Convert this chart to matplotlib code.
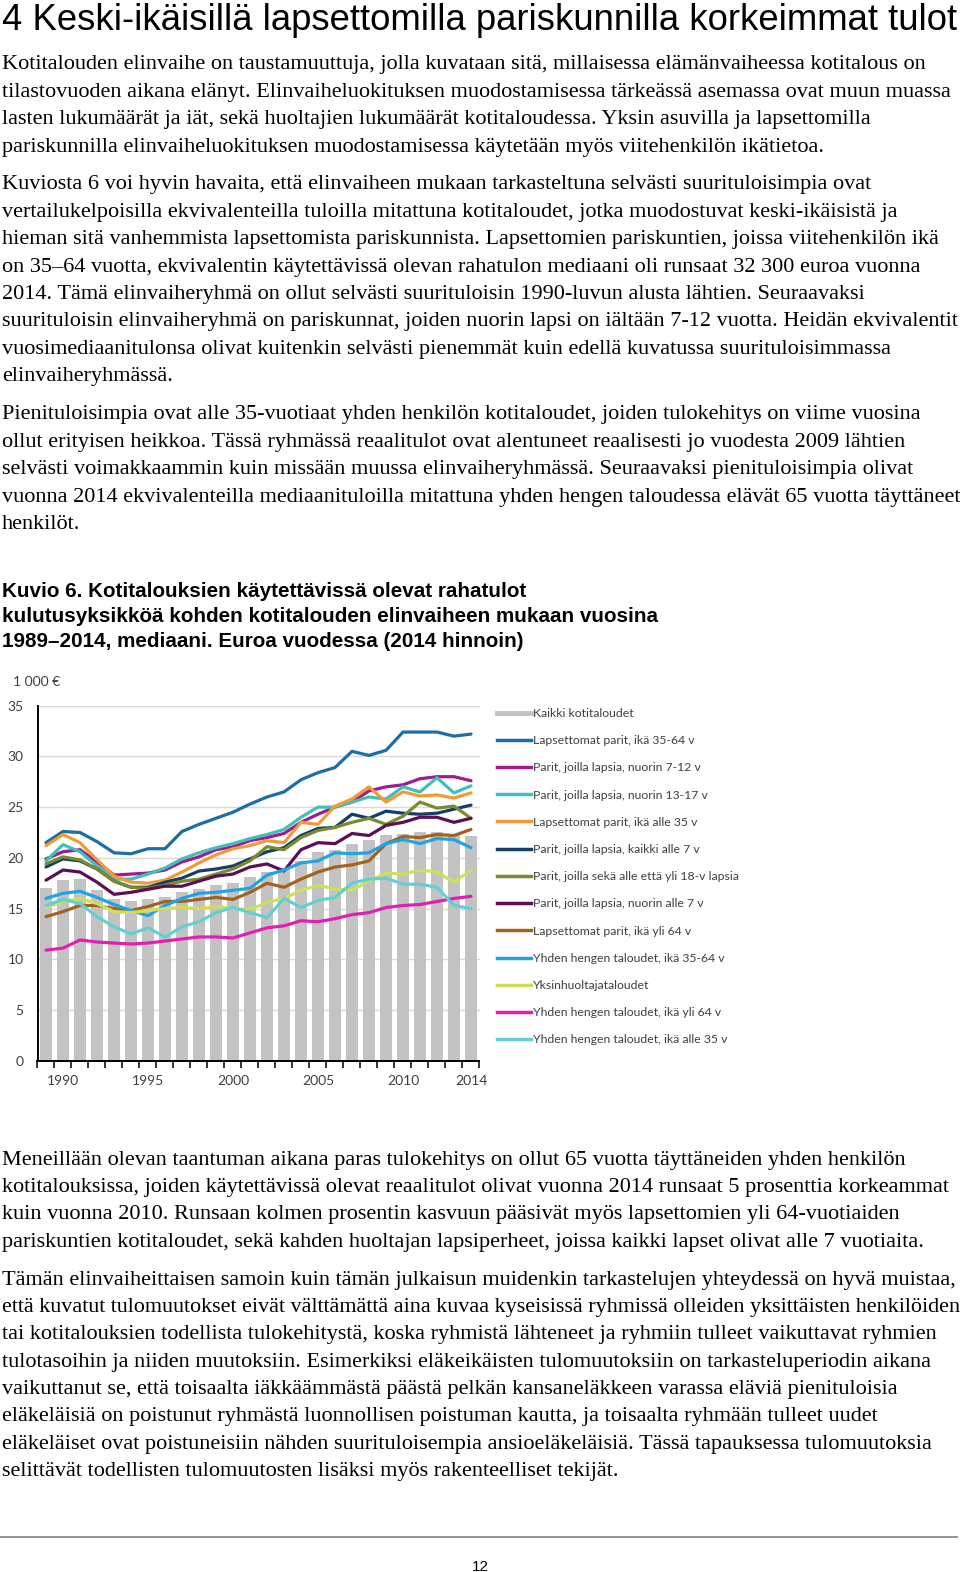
import numpy as np
import matplotlib
matplotlib.use('Agg')
import matplotlib.pyplot as plt
from matplotlib.lines import Line2D

W, H = 960, 1572

# ---------------- data ----------------
years = list(range(1989, 2015))
kaikki_kotitaloudet = [17.0, 17.8, 17.9, 16.8, 15.9, 15.7, 15.9, 16.1, 16.6, 16.9, 17.3, 17.5, 18.1,
                       18.6, 19.0, 19.7, 20.6, 20.8, 21.4, 21.8, 22.3, 22.4, 22.5, 22.5, 22.3, 22.2]
lapsettomat_35_64 = [21.5, 22.6, 22.5, 21.6, 20.5, 20.4, 20.9, 20.9, 22.6, 23.3, 23.9, 24.5, 25.3,
                     26.0, 26.5, 27.7, 28.4, 28.9, 30.5, 30.1, 30.6, 32.4, 32.4, 32.4, 32.0, 32.2]
parit_nuorin_7_12 = [19.9, 20.6, 20.8, 19.6, 18.3, 18.4, 18.5, 18.8, 19.6, 20.1, 20.8, 21.1, 21.7,
                     22.0, 22.4, 23.5, 24.3, 25.0, 25.5, 26.6, 27.0, 27.2, 27.8, 28.0, 28.0, 27.6]
parit_nuorin_13_17 = [19.7, 21.3, 20.6, 19.2, 17.9, 17.9, 18.4, 19.0, 19.9, 20.5, 21.0, 21.4, 21.9,
                      22.3, 22.8, 24.0, 25.0, 25.0, 25.5, 26.0, 25.8, 27.0, 26.5, 27.9, 26.4, 27.1]
lapsettomat_alle_35 = [21.2, 22.3, 21.5, 19.8, 18.2, 17.6, 17.5, 17.8, 18.6, 19.5, 20.3, 20.9, 21.2,
                       21.7, 21.5, 23.5, 23.3, 25.1, 25.8, 27.0, 25.5, 26.5, 26.1, 26.2, 25.9, 26.4]
parit_kaikki_alle_7 = [19.1, 19.9, 19.7, 18.9, 17.7, 17.1, 17.1, 17.6, 18.0, 18.7, 18.9, 19.2, 19.9,
                       20.6, 21.0, 22.2, 22.9, 23.0, 24.3, 23.9, 24.6, 24.4, 24.3, 24.4, 24.8, 25.2]
parit_alle_ja_yli_18 = [19.4, 20.1, 19.8, 18.9, 17.7, 17.1, 17.0, 17.3, 17.7, 17.9, 18.4, 18.9, 19.7,
                        21.1, 20.8, 22.0, 22.7, 23.0, 23.5, 23.9, 23.3, 24.1, 25.5, 24.9, 25.1, 23.9]
parit_nuorin_alle_7 = [17.8, 18.8, 18.6, 17.6, 16.4, 16.6, 16.9, 17.2, 17.2, 17.7, 18.2, 18.4, 19.1,
                       19.4, 18.7, 20.8, 21.5, 21.4, 22.4, 22.2, 23.2, 23.5, 24.0, 24.0, 23.5, 23.9]
lapsettomat_yli_64 = [14.2, 14.7, 15.3, 15.3, 15.0, 14.8, 15.2, 15.7, 15.7, 15.9, 16.1, 15.9, 16.6,
                      17.5, 17.1, 17.9, 18.6, 19.1, 19.3, 19.7, 21.4, 22.1, 22.0, 22.3, 22.2, 22.8]
yhden_hengen_35_64 = [16.0, 16.5, 16.7, 16.1, 15.4, 14.8, 14.3, 15.3, 16.0, 16.5, 16.6, 16.8, 17.0,
                      18.3, 18.8, 19.5, 19.7, 20.5, 20.4, 20.5, 21.4, 21.8, 21.4, 21.9, 21.8, 21.0]
yksinhuoltajat = [15.1, 15.7, 16.0, 15.5, 14.7, 14.6, 14.8, 15.0, 15.1, 15.0, 15.2, 15.0, 14.9,
                  15.6, 16.0, 16.8, 17.3, 16.9, 16.8, 17.7, 18.5, 18.4, 18.8, 18.6, 17.6, 18.8]
yhden_hengen_yli_64 = [10.9, 11.1, 11.9, 11.7, 11.6, 11.5, 11.6, 11.8, 12.0, 12.2, 12.2, 12.1, 12.6,
                       13.1, 13.3, 13.8, 13.7, 14.0, 14.4, 14.6, 15.1, 15.3, 15.4, 15.7, 16.0, 16.2]
yhden_hengen_alle_35 = [15.3, 15.9, 15.5, 14.2, 13.2, 12.5, 13.1, 12.2, 13.2, 13.7, 14.6, 15.1, 14.6,
                        14.1, 16.0, 15.1, 15.8, 16.1, 17.5, 17.9, 18.0, 17.4, 17.4, 17.1, 15.3, 15.0]

bar_label = "Kaikki kotitaloudet"
line_labels = ["Lapsettomat parit, ikä 35-64 v", "Parit, joilla lapsia, nuorin 7-12 v",
               "Parit, joilla lapsia, nuorin 13-17 v", "Lapsettomat parit, ikä alle 35 v",
               "Parit, joilla lapsia, kaikki alle 7 v", "Parit, joilla sekä alle että yli 18-v lapsia",
               "Parit, joilla lapsia, nuorin alle 7 v", "Lapsettomat parit, ikä yli 64 v",
               "Yhden hengen taloudet, ikä 35-64 v", "Yksinhuoltajataloudet",
               "Yhden hengen taloudet, ikä yli 64 v", "Yhden hengen taloudet, ikä alle 35 v"]
line_values = [lapsettomat_35_64, parit_nuorin_7_12, parit_nuorin_13_17, lapsettomat_alle_35,
               parit_kaikki_alle_7, parit_alle_ja_yli_18, parit_nuorin_alle_7, lapsettomat_yli_64,
               yhden_hengen_35_64, yksinhuoltajat, yhden_hengen_yli_64, yhden_hengen_alle_35]
line_colors = ["#1c6ea6", "#9e1c8f", "#3fc0bb", "#f29b35", "#163f68", "#7a8a2c",
               "#5b0f54", "#a5621c", "#22a3e2", "#d0de5c", "#e21fb2", "#62d0d2"]
ytick_values = [0, 5, 10, 15, 20, 25, 30, 35]
xtick_label_years = [1990, 1995, 2000, 2005, 2010, 2014]

title = "4 Keski-ikäisillä lapsettomilla pariskunnilla korkeimmat tulot"
paragraphs_top = [
    ["Kotitalouden elinvaihe on taustamuuttuja, jolla kuvataan sitä, millaisessa elämänvaiheessa kotitalous on",
     "tilastovuoden aikana elänyt. Elinvaiheluokituksen muodostamisessa tärkeässä asemassa ovat muun muassa",
     "lasten lukumäärät ja iät, sekä huoltajien lukumäärät kotitaloudessa. Yksin asuvilla ja lapsettomilla",
     "pariskunnilla elinvaiheluokituksen muodostamisessa käytetään myös viitehenkilön ikätietoa."],
    ["Kuviosta 6 voi hyvin havaita, että elinvaiheen mukaan tarkasteltuna selvästi suurituloisimpia ovat",
     "vertailukelpoisilla ekvivalenteilla tuloilla mitattuna kotitaloudet, jotka muodostuvat keski-ikäisistä ja",
     "hieman sitä vanhemmista lapsettomista pariskunnista. Lapsettomien pariskuntien, joissa viitehenkilön ikä",
     "on 35–64 vuotta, ekvivalentin käytettävissä olevan rahatulon mediaani oli runsaat 32 300 euroa vuonna",
     "2014. Tämä elinvaiheryhmä on ollut selvästi suurituloisin 1990-luvun alusta lähtien. Seuraavaksi",
     "suurituloisin elinvaiheryhmä on pariskunnat, joiden nuorin lapsi on iältään 7-12 vuotta. Heidän ekvivalentit",
     "vuosimediaanitulonsa olivat kuitenkin selvästi pienemmät kuin edellä kuvatussa suurituloisimmassa",
     "elinvaiheryhmässä."],
    ["Pienituloisimpia ovat alle 35-vuotiaat yhden henkilön kotitaloudet, joiden tulokehitys on viime vuosina",
     "ollut erityisen heikkoa. Tässä ryhmässä reaalitulot ovat alentuneet reaalisesti jo vuodesta 2009 lähtien",
     "selvästi voimakkaammin kuin missään muussa elinvaiheryhmässä. Seuraavaksi pienituloisimpia olivat",
     "vuonna 2014 ekvivalenteilla mediaanituloilla mitattuna yhden hengen taloudessa elävät 65 vuotta täyttäneet",
     "henkilöt."],
]
paragraphs_bottom = [
    ["Meneillään olevan taantuman aikana paras tulokehitys on ollut 65 vuotta täyttäneiden yhden henkilön",
     "kotitalouksissa, joiden käytettävissä olevat reaalitulot olivat vuonna 2014 runsaat 5 prosenttia korkeammat",
     "kuin vuonna 2010. Runsaan kolmen prosentin kasvuun pääsivät myös lapsettomien yli 64-vuotiaiden",
     "pariskuntien kotitaloudet, sekä kahden huoltajan lapsiperheet, joissa kaikki lapset olivat alle 7 vuotiaita."],
    ["Tämän elinvaiheittaisen samoin kuin tämän julkaisun muidenkin tarkastelujen yhteydessä on hyvä muistaa,",
     "että kuvatut tulomuutokset eivät välttämättä aina kuvaa kyseisissä ryhmissä olleiden yksittäisten henkilöiden",
     "tai kotitalouksien todellista tulokehitystä, koska ryhmistä lähteneet ja ryhmiin tulleet vaikuttavat ryhmien",
     "tulotasoihin ja niiden muutoksiin. Esimerkiksi eläkeikäisten tulomuutoksiin on tarkasteluperiodin aikana",
     "vaikuttanut se, että toisaalta iäkkäämmästä päästä pelkän kansaneläkkeen varassa eläviä pienituloisia",
     "eläkeläisiä on poistunut ryhmästä luonnollisen poistuman kautta, ja toisaalta ryhmään tulleet uudet",
     "eläkeläiset ovat poistuneisiin nähden suurituloisempia ansioeläkeläisiä. Tässä tapauksessa tulomuutoksia",
     "selittävät todellisten tulomuutosten lisäksi myös rakenteelliset tekijät."],
]
caption_lines = ["Kuvio 6. Kotitalouksien käytettävissä olevat rahatulot",
                 "kulutusyksikköä kohden kotitalouden elinvaiheen mukaan vuosina",
                 "1989–2014, mediaani. Euroa vuodessa (2014 hinnoin)"]
unit_label = "1 000 €"
page_number = "12"

# ---------------- figure ----------------
fig = plt.figure(figsize=(W / 100, H / 100), dpi=100)
fig.patch.set_facecolor('white')
renderer = fig.canvas.get_renderer()


def fx(x):
    return x / W


def fy(y):
    return 1 - y / H


def width_px(s, family, weight, size):
    t = fig.text(0, 0, s, fontsize=size, family=family, weight=weight)
    w = t.get_window_extent(renderer).width
    t.remove()
    return w


SERIF = 'Liberation Serif'
SANS = 'Liberation Sans'
CHART = 'Lato'

# Title
ts = 20 * 955 / width_px(title, SANS, 'normal', 20)
fig.text(fx(2), fy(30), title, fontsize=ts, family=SANS, va='baseline', ha='left')

# body font size fitted to reference line widths
refs = [(paragraphs_top[0][0], 950), (paragraphs_top[0][1], 955), (paragraphs_top[1][2], 956),
        (paragraphs_top[1][5], 956), (paragraphs_bottom[0][1], 956), (paragraphs_bottom[1][1], 956),
        (paragraphs_top[1][1], 922)]
sizes = [14 * tw / width_px(s, SERIF, 'normal', 14) for s, tw in refs]
body_size = float(np.median(sizes))


def draw_par(lines, base_y):
    for i, line in enumerate(lines):
        size = body_size
        w = width_px(line, SERIF, 'normal', size)
        if w > 956:
            size = size * 956 / w
        fig.text(fx(2), fy(base_y + i * 27.35), line, fontsize=size, family=SERIF,
                 va='baseline', ha='left')


draw_par(paragraphs_top[0], 69.5)
draw_par(paragraphs_top[1], 189.5)
draw_par(paragraphs_top[2], 419.5)
draw_par(paragraphs_bottom[0], 1164.5)
draw_par(paragraphs_bottom[1], 1284.5)

# caption
cs = 14 * 657 / width_px(caption_lines[1], SANS, 'bold', 14)
for i, line in enumerate(caption_lines):
    fig.text(fx(2), fy(597 + i * 25), line, fontsize=cs, family=SANS, weight='bold',
             va='baseline', ha='left')

# footer
fig.add_artist(Line2D([0, 957 / W], [fy(1537), fy(1537)], color='#8a8a8a', lw=1.3,
                      transform=fig.transFigure))
fig.text(fx(480), fy(1571), page_number, fontsize=11, family=SANS, ha='center', va='baseline')

# ---------------- chart ----------------
ax = fig.add_axes([fx(37.5), fy(1060.7), 442 / W, 355 / H])
ax.set_xlim(1988.5, 2014.5)
ax.set_ylim(0, 35)
ax.set_yticks(ytick_values)
ax.yaxis.grid(True, color='#d9d9d9', lw=1.0)
ax.set_axisbelow(True)

ax.bar(years, kaikki_kotitaloudet, width=0.65, color='#c3c3c3', zorder=2, label=bar_label)
handles = [Line2D([0], [0], color='#c3c3c3', lw=3.5)]
for vals, col, lab in zip(line_values, line_colors, line_labels):
    ax.plot(years, vals, color=col, lw=2.3, zorder=3, solid_capstyle='round',
            solid_joinstyle='round')
    handles.append(Line2D([0], [0], color=col, lw=2.5))

for s in ['top', 'right']:
    ax.spines[s].set_visible(False)
ax.spines['left'].set_linewidth(1.4)
ax.spines['bottom'].set_linewidth(1.4)

ax.set_xticks(np.arange(1988.5, 2015, 1.0))
ax.set_xticklabels([])
ax.tick_params(axis='x', which='major', length=5, width=1.1, direction='out', color='black')
ax.set_xticks(xtick_label_years, minor=True)
ax.set_xticklabels([str(y) for y in xtick_label_years], minor=True)
ax.tick_params(axis='x', which='minor', length=0, pad=10, labelsize=10, labelcolor='#404040')
for lbl in ax.get_xticklabels(minor=True):
    lbl.set_family(CHART)
ax.tick_params(axis='y', length=0, pad=10, labelsize=10, labelcolor='#404040')
for lbl in ax.get_yticklabels():
    lbl.set_family(CHART)

fig.text(fx(13), fy(681.5), unit_label, fontsize=10, family=CHART, color='#404040',
         va='center', ha='left')

leg_fs = 8.8
fs_px = leg_fs * 100 / 72
text_h = 0.91 * fs_px
fig.legend(handles, [bar_label] + line_labels, loc='upper left',
           bbox_to_anchor=(fx(497), fy(711 - text_h / 2 + 2.5)),
           frameon=False, borderpad=0, borderaxespad=0, handlelength=34 / fs_px,
           handletextpad=0.15, labelspacing=(27.33 - text_h) / fs_px,
           prop={'family': CHART, 'size': leg_fs}, labelcolor='#404040')

fig.savefig('out.png', dpi=100, facecolor='white')
